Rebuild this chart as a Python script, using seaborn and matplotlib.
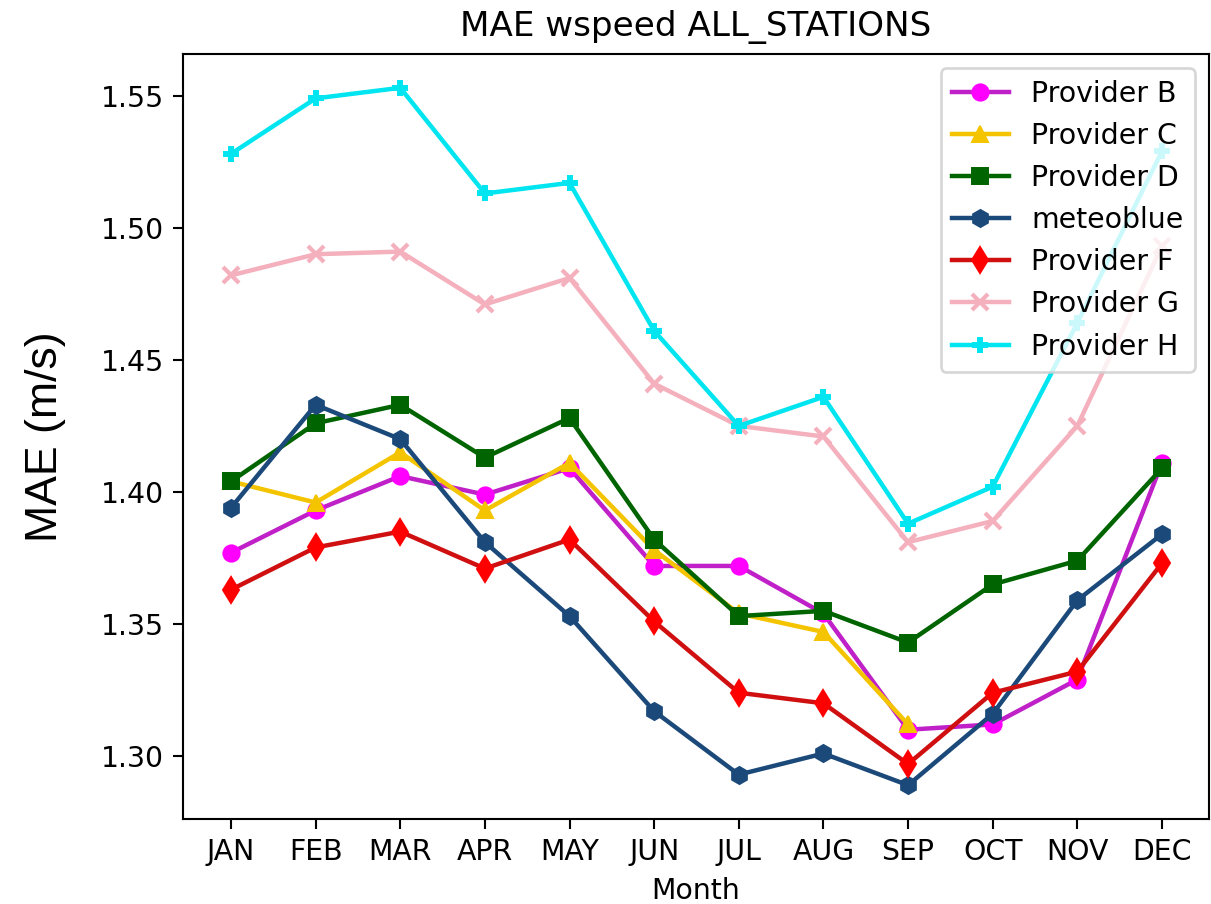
import numpy as np
import pandas as pd
import matplotlib
matplotlib.use("Agg")
import matplotlib.pyplot as plt
import seaborn as sns

months = ["JAN", "FEB", "MAR", "APR", "MAY", "JUN", "JUL", "AUG", "SEP", "OCT", "NOV", "DEC"]
provider_b = [1.377, 1.393, 1.406, 1.399, 1.409, 1.372, 1.372, 1.354, 1.310, 1.312, 1.329, 1.411]
provider_c = [1.404, 1.396, 1.415, 1.393, 1.411, 1.378, 1.354, 1.347, 1.312, np.nan, np.nan, np.nan]
provider_d = [1.404, 1.426, 1.433, 1.413, 1.428, 1.382, 1.353, 1.355, 1.343, 1.365, 1.374, 1.409]
meteoblue = [1.394, 1.433, 1.420, 1.381, 1.353, 1.317, 1.293, 1.301, 1.289, 1.316, 1.359, 1.384]
provider_f = [1.363, 1.379, 1.385, 1.371, 1.382, 1.351, 1.324, 1.320, 1.297, 1.324, 1.332, 1.373]
provider_g = [1.482, 1.490, 1.491, 1.471, 1.481, 1.441, 1.425, 1.421, 1.381, 1.389, 1.425, 1.493]
provider_h = [1.528, 1.549, 1.553, 1.513, 1.517, 1.461, 1.425, 1.436, 1.388, 1.402, 1.464, 1.529]

series = [
    ("Provider B", provider_b, "o", "#c020c8", "#ff00ff", 6.2),
    ("Provider C", provider_c, "^", "#f5c400", "#f5c400", 6.0),
    ("Provider D", provider_d, "s", "#006400", "#006400", 5.8),
    ("meteoblue", meteoblue, "h", "#1b4a7a", "#1b4a7a", 6.5),
    ("Provider F", provider_f, "d", "#d01010", "#ff0000", 7.0),
    ("Provider G", provider_g, "x", "#f4b0bc", "#f4b0bc", 6.0),
    ("Provider H", provider_h, "P", "#00e5f0", "#00e5f0", 5.5),
]

fig = plt.figure(figsize=(1211 / 189, 904 / 189), dpi=189)
ax = fig.add_axes([183 / 1211, 1 - 819 / 904, (1209 - 183) / 1211, (819 - 54) / 904])

x = np.arange(len(months))
for name, vals, mk, lc, mc, ms in series:
    df = pd.DataFrame({"x": x, "y": vals}).dropna()
    sns.lineplot(data=df, x="x", y="y", ax=ax, color=lc, marker=mk, markersize=ms,
                 markerfacecolor=mc, markeredgecolor=mc,
                 markeredgewidth=1.6 if mk == "x" else 0.75,
                 linewidth=1.7, label=name)

ax.set_xticks(x)
ax.set_xticklabels(months)
ax.tick_params(labelsize=10.8, length=3.8)
ax.set_xlim(-0.567, 11.556)
ax.set_ylim(1.2762, 1.5658)
ax.set_yticks([1.30, 1.35, 1.40, 1.45, 1.50, 1.55])
ax.set_yticklabels(["1.30", "1.35", "1.40", "1.45", "1.50", "1.55"])
ax.set_xlabel("Month", fontsize=10.8)
ax.set_ylabel("MAE (m/s)", fontsize=17, family=["Liberation Sans", "DejaVu Sans"], labelpad=13)
ax.set_title("MAE wspeed ALL_STATIONS", fontsize=13, pad=7)
ax.legend(loc="upper right", fontsize=10.8)
for s in ax.spines.values():
    s.set_visible(True)
    s.set_color("black")

fig.savefig("out.png", dpi=189)
